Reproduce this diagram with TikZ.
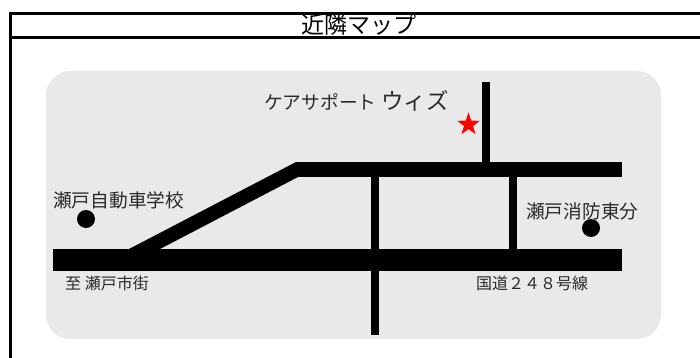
\documentclass[tikz,border=0pt]{standalone}
\usepackage{fontspec}
\setmainfont{Noto Sans CJK JP}
\usetikzlibrary{shapes.geometric}
\definecolor{panel}{HTML}{E9E9E9}
\definecolor{ink}{HTML}{2A2A2A}
\tikzset{
  road/.style={fill=black,draw=none},
  frameline/.style={draw=black,line width=3pt},
  lbl/.style={inner sep=0pt,text=ink,font=\fontsize{18.7}{19}\selectfont},
  smalllbl/.style={inner sep=0pt,text=ink,font=\fontsize{16}{16}\selectfont},
  landmark/.style={circle,fill=black,draw=none,minimum size=18pt,inner sep=0pt}
}
\begin{document}
\begin{tikzpicture}[x=1pt,y=-1pt]
\useasboundingbox (0,0) rectangle (700,358);
\fill[white] (0,0) rectangle (700,358);
\fill[panel,rounded corners=24pt] (46,71) rectangle (661,339);
\node[inner sep=0pt,text=black,font=\fontsize{23}{23}\selectfont] (title) at (358.5,25) {近隣マップ};
% frame
\coordinate (tl) at (10.5,13.5);
\coordinate (tr) at (700,13.5);
\coordinate (bl) at (10.5,358);
\coordinate (ml) at (10.5,38);
\coordinate (mr) at (700,38);
\draw[frameline] (bl) -- (tl) -- (tr);
\draw[frameline] (ml) -- (mr);
% roads
\fill[road] (53,249) rectangle (622,271);
\fill[road] (296,162) rectangle (622,177);
\fill[road] (129,249) -- (296,162) -- (298,177) -- (160,249) -- cycle;
\fill[road] (370.5,177) rectangle (379,335);
\fill[road] (509,177) rectangle (517,249);
\fill[road] (482,82) rectangle (490,162);
% markers
\node[star,star points=5,star point ratio=2.55,fill=red,draw=none,minimum size=24pt,inner sep=0pt] (wiz) at (468.5,124.5) {};
\node[landmark] (school) at (86,219) {};
\node[landmark] (fire) at (591,228) {};
% labels
\node[lbl,anchor=west] (wizlabel) at (264,101) {ケアサポート\hspace{5pt}{\fontsize{22.5}{22.5}\selectfont ウィズ}};
\node[lbl,anchor=west] (schoollabel) at (53,200) {瀬戸自動車学校};
\node[lbl,anchor=west] (firelabel) at (526,211) {瀬戸消防東分};
\node[smalllbl,anchor=west] (citylabel) at (65,283) {至 瀬戸市街};
\node[smalllbl,anchor=west] (routelabel) at (476,283) {国道２４８号線};
\end{tikzpicture}
\end{document}
